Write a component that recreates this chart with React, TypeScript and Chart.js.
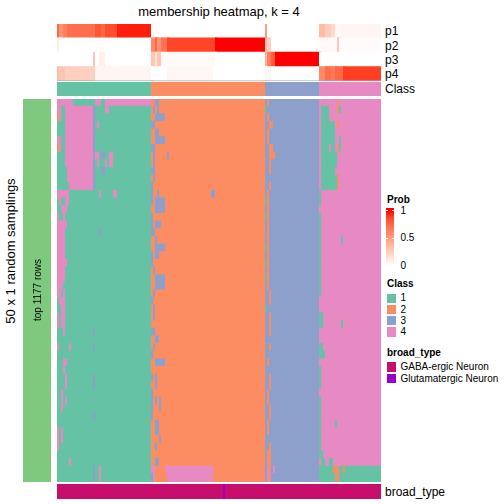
import React, { useEffect, useRef } from "react";
import { Chart, registerables } from "chart.js";

Chart.register(...registerables);

const FONT = '"Liberation Sans", Arial, Helvetica, sans-serif';

// ---------------- data ----------------
const titleText = "membership heatmap, k = 4";
const classLabels = ["1", "2", "3", "4"];
const classColors = ["#66C2A5", "#FC8D62", "#8DA0CB", "#E78AC3"];
const classCounts = [47, 57, 27, 31]; // columns per consensus class

const probRowLabels = ["p1", "p2", "p3", "p4"];
// [fromCol, toCol, probability]
const p1Runs = [
  [0, 1, 0.75], [1, 3, 0.55], [3, 5, 0.65], [5, 19, 0.72], [19, 22, 0.82], [22, 24, 0.75],
  [24, 30, 0.85], [30, 47, 0.97], [47, 104, 0], [104, 105, 0.5], [105, 131, 0],
  [131, 134, 0.35], [134, 137, 0.27], [137, 139, 0.2], [139, 141, 0.04], [141, 142, 0.03], [142, 162, 0.05],
];
const p2Runs = [
  [0, 1, 0.1], [1, 47, 0], [47, 49, 0.6], [49, 50, 0.75], [50, 52, 0.55], [52, 55, 0.7],
  [55, 79, 0.88], [79, 104, 1], [104, 105, 0.35], [105, 107, 0.25], [107, 131, 0],
  [131, 138, 0.03], [138, 140, 0.02], [140, 141, 0.3], [141, 162, 0.02],
];
const p3Runs = [
  [0, 18, 0], [18, 19, 0.3], [19, 21, 0], [21, 24, 0.08], [24, 47, 0], [47, 49, 0.3],
  [49, 50, 0.15], [50, 52, 0.3], [52, 79, 0.03], [79, 104, 0], [104, 105, 0.4],
  [105, 107, 0.65], [107, 109, 0.8], [109, 131, 1], [131, 162, 0],
];
const p4Runs = [
  [0, 1, 0.35], [1, 4, 0.3], [4, 19, 0.25], [19, 47, 0.05], [47, 55, 0], [55, 78, 0.04],
  [78, 104, 0], [104, 107, 0.04], [107, 131, 0], [131, 134, 0.6], [134, 137, 0.72],
  [137, 139, 0.68], [139, 143, 0.75], [143, 162, 0.9],
];
const probRuns = [p1Runs, p2Runs, p3Runs, p4Runs];

const samplingCount = 50;
const leftAnnotationLabel = "top 1177 rows";
const leftAxisLabel = "50 x 1 random samplings";
// [row, fromCol, toCol, class] : cells that differ from the consensus class
const rowExceptions = [
  [0, 0, 8, 4], [0, 19, 22, 4], [0, 24, 47, 4], [0, 49, 51, 3], [0, 105, 106, 2], [0, 140, 141, 2],
  [1, 0, 2, 4], [1, 4, 18, 4], [1, 18, 19, 3], [1, 24, 26, 4], [1, 48, 49, 3], [1, 50, 51, 3], [1, 104, 105, 1], [1, 132, 136, 1], [1, 140, 141, 2], [1, 141, 142, 1],
  [2, 0, 1, 2], [2, 1, 2, 4], [2, 4, 18, 4], [2, 18, 19, 3], [2, 49, 54, 3], [2, 105, 106, 2], [2, 132, 136, 1],
  [3, 4, 18, 4], [3, 18, 19, 3], [3, 20, 21, 4], [3, 47, 49, 3], [3, 106, 108, 2], [3, 132, 139, 1], [3, 140, 141, 2],
  [4, 4, 18, 4], [4, 18, 19, 3], [4, 49, 51, 3], [4, 105, 106, 2], [4, 132, 139, 1],
  [5, 0, 2, 4], [5, 4, 18, 4], [5, 18, 19, 3], [5, 49, 54, 3], [5, 105, 106, 2], [5, 132, 139, 1], [5, 141, 142, 1],
  [6, 0, 1, 2], [6, 1, 2, 4], [6, 4, 18, 4], [6, 18, 19, 3], [6, 47, 49, 3], [6, 106, 108, 2], [6, 132, 136, 1], [6, 137, 139, 1], [6, 140, 141, 2], [6, 141, 142, 1],
  [7, 4, 18, 4], [7, 18, 19, 3], [7, 19, 21, 4], [7, 22, 24, 3], [7, 26, 28, 4], [7, 48, 49, 3], [7, 55, 56, 3], [7, 106, 109, 2], [7, 132, 140, 1],
  [8, 4, 18, 4], [8, 18, 19, 3], [8, 20, 21, 4], [8, 24, 25, 4], [8, 26, 28, 4], [8, 48, 49, 3], [8, 106, 107, 2], [8, 132, 140, 1],
  [9, 5, 18, 4], [9, 18, 19, 3], [9, 22, 24, 3], [9, 47, 49, 3], [9, 106, 107, 2], [9, 132, 139, 1],
  [10, 5, 18, 4], [10, 18, 19, 3], [10, 48, 49, 3], [10, 132, 140, 1], [10, 140, 141, 2],
  [11, 6, 18, 4], [11, 18, 19, 3], [11, 47, 48, 3], [11, 106, 107, 2], [11, 132, 140, 1], [11, 140, 141, 2],
  [12, 0, 6, 4], [12, 21, 22, 4], [12, 28, 30, 4], [12, 47, 48, 3], [12, 50, 51, 3], [12, 77, 79, 3], [12, 105, 106, 2], [12, 131, 132, 1],
  [13, 1, 2, 4], [13, 4, 6, 4], [13, 47, 48, 3], [13, 49, 54, 3], [13, 104, 105, 1], [13, 105, 106, 2], [13, 131, 132, 1],
  [14, 2, 5, 4], [14, 49, 54, 3], [14, 105, 106, 2],
  [15, 0, 1, 4], [15, 3, 4, 4], [15, 47, 48, 3], [15, 104, 105, 1], [15, 105, 106, 2], [15, 131, 132, 1],
  [16, 0, 5, 4], [16, 47, 48, 3], [16, 49, 52, 3], [16, 105, 106, 2], [16, 131, 132, 1],
  [17, 0, 4, 4], [17, 21, 22, 3], [17, 47, 49, 3], [17, 105, 106, 2], [17, 131, 132, 1],
  [18, 0, 4, 4], [18, 49, 50, 3], [18, 105, 106, 2], [18, 131, 132, 1], [18, 142, 143, 1],
  [19, 0, 4, 4], [19, 49, 54, 3], [19, 104, 105, 1], [19, 105, 106, 2], [19, 131, 132, 1],
  [20, 0, 4, 4], [20, 47, 48, 3], [20, 49, 51, 3], [20, 105, 106, 2], [20, 131, 132, 1],
  [21, 0, 5, 4], [21, 47, 48, 3], [21, 104, 105, 1], [21, 105, 106, 2], [21, 131, 132, 1],
  [22, 0, 4, 4], [22, 48, 49, 3], [22, 105, 106, 2], [22, 131, 132, 1],
  [23, 0, 4, 4], [23, 49, 54, 3], [23, 104, 105, 1], [23, 105, 106, 2], [23, 131, 132, 1],
  [24, 0, 3, 4], [24, 49, 54, 3], [24, 105, 106, 2], [24, 131, 132, 1],
  [25, 0, 2, 4], [25, 3, 4, 4], [25, 48, 49, 3], [25, 106, 107, 2], [25, 131, 132, 1],
  [26, 1, 4, 4], [26, 47, 48, 3], [26, 106, 107, 2],
  [27, 2, 4, 4], [27, 48, 49, 3], [27, 104, 105, 1],
  [28, 0, 1, 4], [28, 2, 4, 4], [28, 48, 49, 3], [28, 106, 107, 2], [28, 131, 133, 1],
  [29, 0, 1, 4], [29, 2, 4, 4], [29, 106, 107, 2], [29, 131, 133, 1], [29, 142, 143, 1],
  [30, 3, 4, 4], [30, 18, 19, 3], [30, 47, 49, 3], [30, 106, 107, 2],
  [31, 49, 51, 3],
  [32, 0, 1, 4], [32, 6, 7, 4], [32, 18, 19, 3], [32, 48, 49, 3], [32, 106, 107, 2], [32, 131, 133, 1],
  [33, 47, 48, 3], [33, 131, 134, 1],
  [34, 3, 5, 4], [34, 49, 54, 3], [34, 105, 106, 2],
  [35, 3, 4, 4], [35, 131, 132, 1],
  [36, 4, 5, 4], [36, 18, 19, 3], [36, 47, 48, 3], [36, 49, 50, 3], [36, 106, 107, 2], [36, 131, 132, 1],
  [37, 4, 5, 4], [37, 18, 19, 3], [37, 49, 50, 3], [37, 106, 107, 2], [37, 131, 132, 1],
  [38, 2, 3, 4], [38, 47, 48, 3], [38, 105, 106, 2],
  [39, 2, 3, 4], [39, 4, 5, 4], [39, 47, 48, 3], [39, 49, 50, 3], [39, 51, 52, 3], [39, 105, 106, 2], [39, 131, 132, 1],
  [40, 2, 3, 4], [40, 47, 48, 3], [40, 51, 52, 3], [40, 106, 107, 2], [40, 131, 132, 1],
  [41, 18, 19, 3], [41, 47, 48, 3], [41, 106, 107, 2], [41, 131, 132, 1],
  [42, 49, 51, 3], [42, 105, 106, 2], [42, 131, 132, 1], [42, 139, 140, 1],
  [43, 0, 1, 4], [43, 2, 3, 4], [43, 49, 51, 3], [43, 105, 106, 2], [43, 131, 132, 1],
  [44, 0, 1, 4], [44, 2, 3, 4], [44, 51, 52, 3], [44, 131, 132, 1],
  [45, 0, 1, 4], [45, 49, 50, 3], [45, 106, 107, 2], [45, 131, 132, 1],
  [46, 105, 107, 2], [46, 131, 133, 1],
  [47, 6, 7, 4], [47, 49, 51, 3], [47, 105, 107, 2], [47, 132, 134, 1], [47, 136, 138, 1],
  [48, 18, 19, 3], [48, 21, 22, 4], [48, 47, 49, 4], [48, 54, 78, 4], [48, 105, 106, 4], [48, 106, 107, 2], [48, 108, 109, 4], [48, 131, 162, 1], [48, 138, 139, 2], [48, 139, 141, 2], [48, 143, 144, 2],
  [49, 18, 19, 3], [49, 21, 22, 4], [49, 47, 48, 3], [49, 48, 49, 4], [49, 55, 78, 4], [49, 105, 106, 4], [49, 106, 107, 2], [49, 131, 162, 1], [49, 139, 141, 2],
];

const broadTypeTitle = "broad_type";
const broadTypeLabels = ["GABA-ergic Neuron", "Glutamatergic Neuron"];
const broadTypeColors = ["#C70E6C", "#9A00C9"];
const broadTypeRuns = [[0, 83], [1, 1], [0, 78]]; // [type index, column count]

const probLegendTicks = [1, 0.5, 0];
const leftBarColor = "#7FC97F";

// ---------------- colour helpers ----------------
function toLin(c: number) { c /= 255; return c <= 0.04045 ? c / 12.92 : Math.pow((c + 0.055) / 1.055, 2.4); }
function fromLin(c: number) { const v = c <= 0.0031308 ? 12.92 * c : 1.055 * Math.pow(c, 1 / 2.4) - 0.055; return Math.round(Math.max(0, Math.min(1, v)) * 255); }
function rgbToLab(rgb: number[]) {
  const R = toLin(rgb[0]), G = toLin(rgb[1]), B = toLin(rgb[2]);
  const X = (0.4124 * R + 0.3576 * G + 0.1805 * B) / 0.95047;
  const Y = 0.2126 * R + 0.7152 * G + 0.0722 * B;
  const Z = (0.0193 * R + 0.1192 * G + 0.9505 * B) / 1.08883;
  const f = (t: number) => (t > 0.008856 ? Math.cbrt(t) : 7.787 * t + 16 / 116);
  const fx = f(X), fy = f(Y), fz = f(Z);
  return [116 * fy - 16, 500 * (fx - fy), 200 * (fy - fz)];
}
function labToRgb(lab: number[]) {
  const fy = (lab[0] + 16) / 116, fx = fy + lab[1] / 500, fz = fy - lab[2] / 200;
  const inv = (t: number) => (t * t * t > 0.008856 ? t * t * t : (t - 16 / 116) / 7.787);
  const X = inv(fx) * 0.95047, Y = inv(fy), Z = inv(fz) * 1.08883;
  const R = 3.2406 * X - 1.5372 * Y - 0.4986 * Z;
  const G = -0.9689 * X + 1.8758 * Y + 0.0415 * Z;
  const B = 0.0557 * X - 0.204 * Y + 1.057 * Z;
  return `rgb(${fromLin(R)},${fromLin(G)},${fromLin(B)})`;
}
const LAB_WHITE = rgbToLab([255, 255, 255]);
const LAB_RED = rgbToLab([255, 0, 0]);
function probColor(v: number) {
  return labToRgb(LAB_WHITE.map((w, i) => w + (LAB_RED[i] - w) * v));
}

// ---------------- layout ----------------
const HM_LEFT = 57, HM_W = 324;
const TOP_Y = 24, TOP_H = 72;
const MAIN_Y = 99, MAIN_H = 383;
const BOT_Y = 484, BOT_H = 15;
const LEFT_X = 23, LEFT_W = 28;
const LEG_X = 387;

const totalCols = classCounts.reduce((a, b) => a + b, 0);

function baseOptions(extra: any = {}) {
  return {
    animation: false,
    responsive: false,
    maintainAspectRatio: false,
    devicePixelRatio: 1,
    events: [],
    layout: { padding: 0 },
    plugins: { legend: { display: false }, tooltip: { enabled: false }, title: { display: false } },
    ...extra,
  };
}

// cells are inflated by 1px so neighbouring cells overlap and no anti-aliased seams appear
const hbarDataset = (data: any[], extra: any = {}) => ({
  data,
  backgroundColor: (ctx: any) => (ctx.raw ? ctx.raw.c : "#000"),
  barPercentage: 1,
  categoryPercentage: 1,
  borderWidth: 0,
  inflateAmount: 1,
  ...extra,
});

// the x range is offset by half a column to compensate the 1px inflation
const hbarScales = (labels: string[]) => ({
  x: { type: "linear", min: -0.5, max: totalCols - 0.5, display: false },
  y: { type: "category", labels, display: false, offset: true, ticks: { autoSkip: false } },
});

export default function App() {
  const topRef = useRef<HTMLCanvasElement>(null);
  const mainRef = useRef<HTMLCanvasElement>(null);
  const leftRef = useRef<HTMLCanvasElement>(null);
  const botRef = useRef<HTMLCanvasElement>(null);

  useEffect(() => {
    document.body.style.margin = "0";
    const charts: Chart[] = [];

    // top annotation: probabilities + class
    const topLabels = [...probRowLabels, "Class"];
    const classData: any[] = [];
    let c0 = 0;
    classCounts.forEach((n, k) => {
      classData.push({ x: [c0, c0 + n], y: "Class", c: classColors[k] });
      c0 += n;
    });
    const probData: any[] = [];
    probRuns.forEach((runs, r) => {
      runs.forEach(([s, e, v]) => probData.push({ x: [s, e], y: probRowLabels[r], c: probColor(v) }));
    });
    charts.push(
      new Chart(topRef.current!, {
        type: "bar",
        data: { labels: topLabels, datasets: [hbarDataset([...probData, ...classData])] as any },
        options: baseOptions({ indexAxis: "y", scales: hbarScales(topLabels) }) as any,
        plugins: [
          {
            id: "classGap",
            afterDatasetsDraw(chart: any) {
              // thin white separator between the probability rows and the class row
              const y = chart.scales.y;
              const px = Math.round((y.getPixelForValue(3) + y.getPixelForValue(4)) / 2) - 1;
              const ctx = chart.ctx;
              ctx.save();
              ctx.fillStyle = "#FFFFFF";
              ctx.fillRect(chart.chartArea.left, px, chart.chartArea.right - chart.chartArea.left, 1);
              ctx.restore();
            },
          },
        ],
      })
    );

    // main heatmap
    const rowLabels: string[] = [];
    for (let r = 0; r < samplingCount; r++) rowLabels.push(`sampling ${r + 1}`);
    const base: number[] = [];
    classCounts.forEach((n, k) => { for (let i = 0; i < n; i++) base.push(k + 1); });
    const grid = rowLabels.map(() => base.slice());
    rowExceptions.forEach(([r, s, e, cls]) => { for (let i = s; i < e && i < totalCols; i++) grid[r][i] = cls; });
    const mainData: any[] = [];
    grid.forEach((row, r) => {
      let s = 0;
      for (let i = 1; i <= row.length; i++) {
        if (i === row.length || row[i] !== row[s]) {
          mainData.push({ x: [s, i], y: rowLabels[r], c: classColors[row[s] - 1] });
          s = i;
        }
      }
    });
    charts.push(
      new Chart(mainRef.current!, {
        type: "bar",
        data: { labels: rowLabels, datasets: [hbarDataset(mainData)] as any },
        options: baseOptions({ indexAxis: "y", scales: hbarScales(rowLabels) }) as any,
      })
    );

    // left annotation bar
    charts.push(
      new Chart(leftRef.current!, {
        type: "bar",
        data: {
          labels: [leftAnnotationLabel],
          datasets: [{ data: [1], backgroundColor: leftBarColor, barPercentage: 1, categoryPercentage: 1, borderWidth: 0 }],
        },
        options: baseOptions({
          scales: {
            x: { type: "category", display: false, offset: true },
            y: { type: "linear", min: 0, max: 1, display: false },
          },
        }) as any,
      })
    );

    // bottom broad_type annotation
    const botData: any[] = [];
    let b0 = 0;
    broadTypeRuns.forEach(([t, n]) => {
      botData.push({ x: [b0, b0 + n], y: broadTypeTitle, c: broadTypeColors[t] });
      b0 += n;
    });
    charts.push(
      new Chart(botRef.current!, {
        type: "bar",
        data: { labels: [broadTypeTitle], datasets: [hbarDataset(botData)] as any },
        options: baseOptions({ indexAxis: "y", scales: hbarScales([broadTypeTitle]) }) as any,
      })
    );

    return () => charts.forEach((c) => c.destroy());
  }, []);

  const abs = (l: number, t: number, w: number, h: number): React.CSSProperties => ({
    position: "absolute", left: l, top: t, width: w, height: h, display: "block",
  });
  const text = (cx: number, cy: number, size: number, extra: React.CSSProperties = {}): React.CSSProperties => ({
    position: "absolute", left: cx, top: cy, transform: "translate(0,-50%)", fontSize: size,
    fontFamily: FONT, whiteSpace: "nowrap", lineHeight: 1, color: "#000", ...extra,
  });

  // prob legend gradient
  const barTop = 208, barH = 60, y1 = 210.7, y0 = 266;
  const stops: string[] = [];
  for (let i = 0; i <= 10; i++) {
    const v = 1 - i / 10;
    const y = y1 + (y0 - y1) * (i / 10);
    stops.push(`${probColor(v)} ${(((y - barTop) / barH) * 100).toFixed(1)}%`);
  }
  const gradient = `linear-gradient(to bottom, ${probColor(1)} 0%, ${stops.join(", ")}, ${probColor(0)} 100%)`;

  const topRowCenters = [31.2, 45.6, 60, 74.4, 88.8];
  const classLegendCenters = [298.2, 309.5, 320.8, 332.1];
  const broadLegendCenters = [367, 378.6];

  return (
    <div style={{ position: "absolute", left: 0, top: 0, width: 504, height: 504, background: "#fff", overflow: "hidden" }}>
      <div style={{ ...text(219, 11, 13), transform: "translate(-50%,-50%)" }}>{titleText}</div>

      <canvas ref={topRef} width={HM_W} height={TOP_H} style={abs(HM_LEFT, TOP_Y, HM_W, TOP_H)} />
      <canvas ref={mainRef} width={HM_W} height={MAIN_H} style={abs(HM_LEFT, MAIN_Y, HM_W, MAIN_H)} />
      <canvas ref={leftRef} width={LEFT_W} height={MAIN_H} style={abs(LEFT_X, MAIN_Y, LEFT_W, MAIN_H)} />
      <canvas ref={botRef} width={HM_W} height={BOT_H} style={abs(HM_LEFT, BOT_Y, HM_W, BOT_H)} />

      {[...probRowLabels, "Class"].map((l, i) => (
        <div key={l} style={text(385, topRowCenters[i], 12)}>{l}</div>
      ))}
      <div style={text(385, 491.5, 12)}>{broadTypeTitle}</div>

      <div style={{ ...text(9.5, 250.5, 13), transform: "translate(-50%,-50%) rotate(-90deg)" }}>{leftAxisLabel}</div>
      <div style={{ ...text(37.5, 290, 10), transform: "translate(-50%,-50%) rotate(-90deg)" }}>{leftAnnotationLabel}</div>

      {/* Prob legend */}
      <div style={text(LEG_X, 200, 10, { fontWeight: "bold" })}>Prob</div>
      <div style={{ position: "absolute", left: 386, top: barTop, width: 8, height: barH, background: gradient }} />
      {probLegendTicks.map((t) => {
        const y = y1 + (y0 - y1) * (1 - t);
        return (
          <React.Fragment key={t}>
            <div style={{ position: "absolute", left: 386, top: y - 0.5, width: 2, height: 1, background: "#fff" }} />
            <div style={{ position: "absolute", left: 392, top: y - 0.5, width: 2, height: 1, background: "#fff" }} />
            <div style={text(400.5, y, 10)}>{String(t)}</div>
          </React.Fragment>
        );
      })}

      {/* Class legend */}
      <div style={text(LEG_X, 284, 10, { fontWeight: "bold" })}>Class</div>
      {classLabels.map((l, i) => (
        <React.Fragment key={l}>
          <div style={{ position: "absolute", left: LEG_X, top: classLegendCenters[i] - 4.7, width: 9.4, height: 9.4, background: classColors[i] }} />
          <div style={text(400.5, classLegendCenters[i], 10)}>{l}</div>
        </React.Fragment>
      ))}

      {/* broad_type legend */}
      <div style={text(LEG_X, 353, 10, { fontWeight: "bold" })}>{broadTypeTitle}</div>
      {broadTypeLabels.map((l, i) => (
        <React.Fragment key={l}>
          <div style={{ position: "absolute", left: LEG_X, top: broadLegendCenters[i] - 4.7, width: 9.4, height: 9.4, background: broadTypeColors[i] }} />
          <div style={text(400.5, broadLegendCenters[i], 10)}>{l}</div>
        </React.Fragment>
      ))}
    </div>
  );
}
